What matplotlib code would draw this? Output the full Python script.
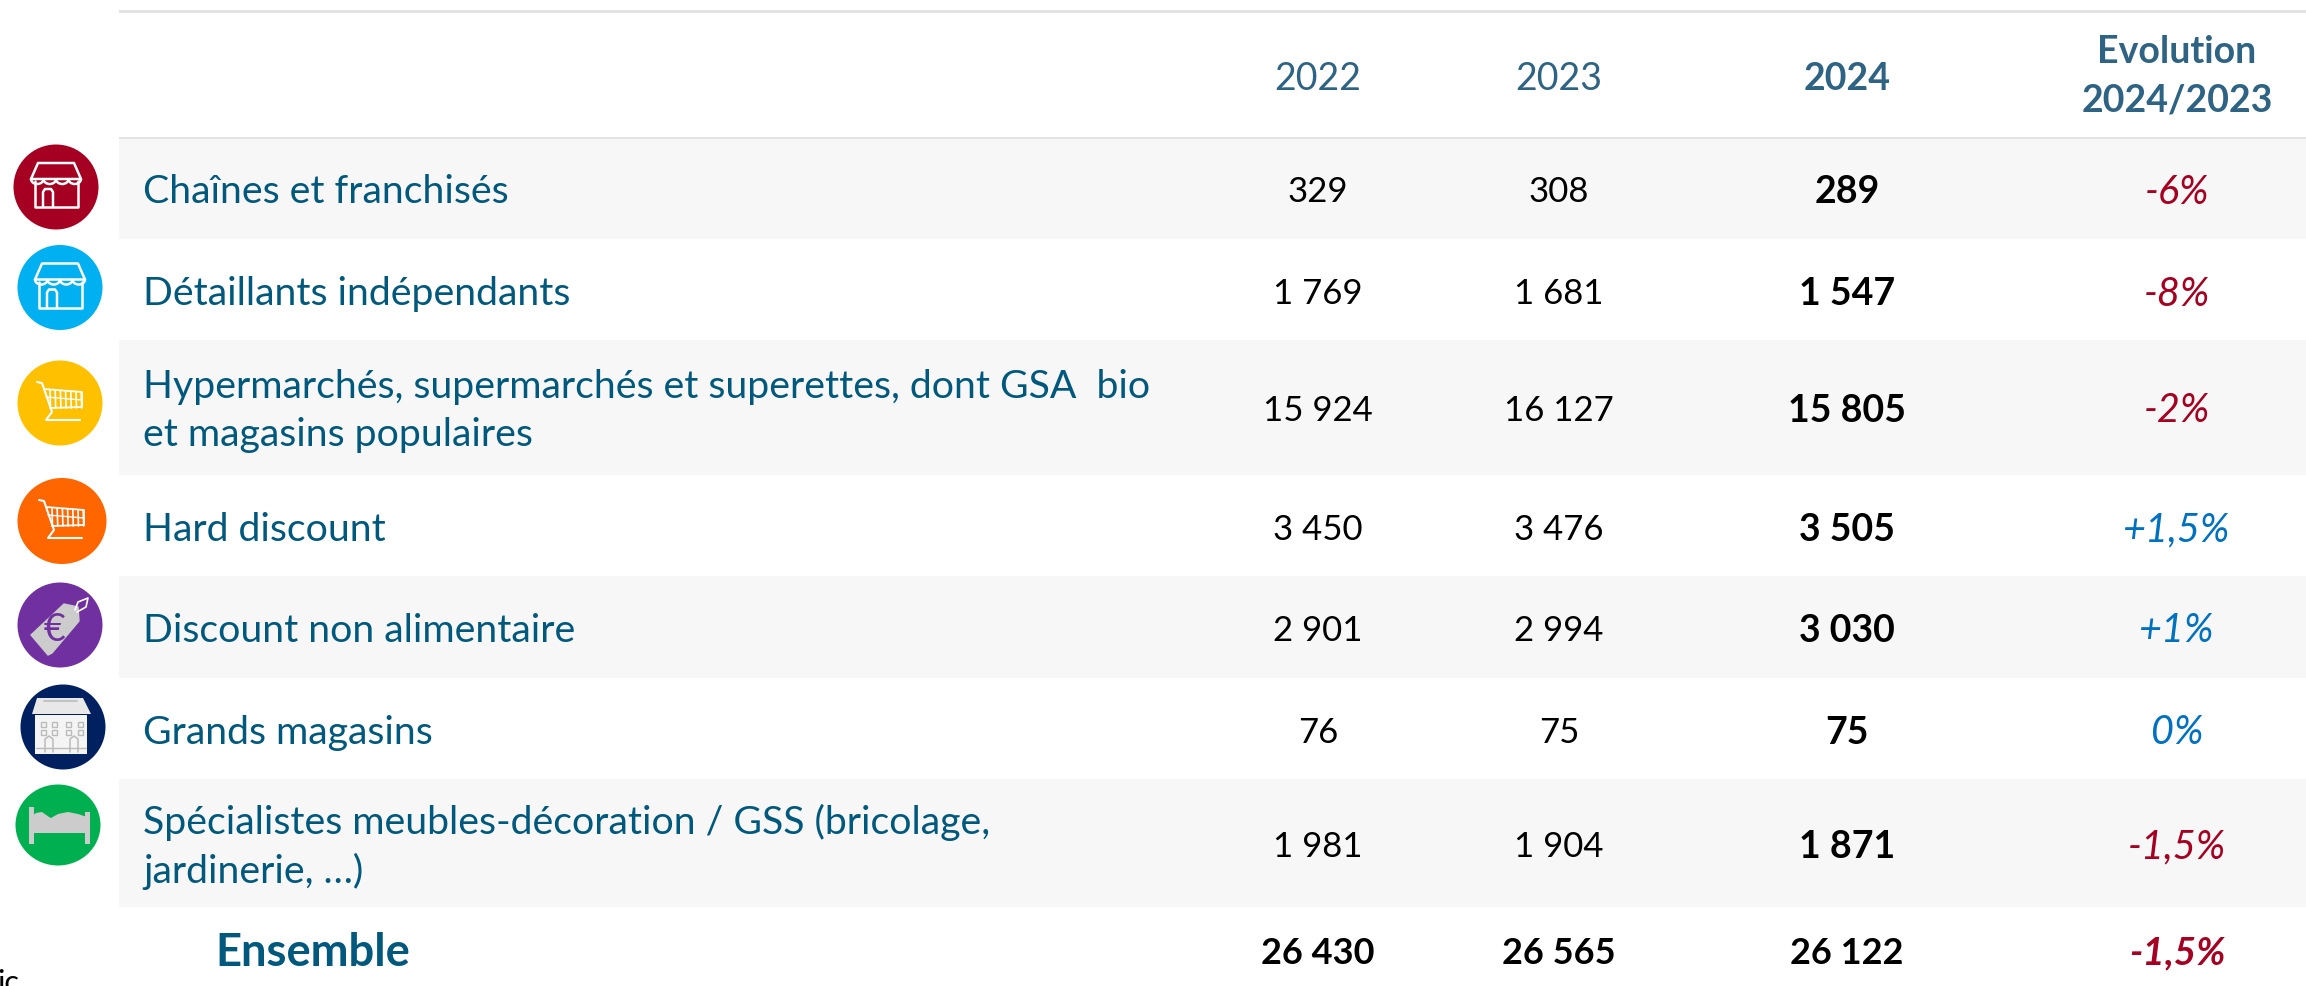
import matplotlib
matplotlib.use("Agg")
import matplotlib.pyplot as plt
from matplotlib.patches import Ellipse, Polygon, Rectangle, Arc
from matplotlib.lines import Line2D

plt.rcParams['font.family'] = ['Lato', 'DejaVu Sans']

categories = ["Chaînes et franchisés", "Détaillants indépendants",
              "Hypermarchés, supermarchés et superettes, dont GSA  bio\net magasins populaires",
              "Hard discount", "Discount non alimentaire", "Grands magasins",
              "Spécialistes meubles-décoration / GSS (bricolage,\njardinerie, …)"]
total_label = "Ensemble"
years = ["2022", "2023", "2024"]
evolution_header = "Evolution\n2024/2023"
values_2022 = [329, 1769, 15924, 3450, 2901, 76, 1981]
values_2023 = [308, 1681, 16127, 3476, 2994, 75, 1904]
values_2024 = [289, 1547, 15805, 3505, 3030, 75, 1871]
evolution = ["-6%", "-8%", "-2%", "+1,5%", "+1%", "0%", "-1,5%"]
total_values = [26430, 26565, 26122]
total_evolution = "-1,5%"

W, H = 2306, 986
NAVY = "#00587C"; HEAD = "#2E6384"; RED = "#A50021"; BLUE = "#0070C0"
BAND = "#F7F7F7"; RULE = "#E3E3E3"
row_edges = [138, 239, 340, 475, 576, 678, 779, 907]
row_ys = [188, 290, 407, 526, 627, 729, 843]
col_x = [1318, 1559, 1847, 2177]
LEFT = 119
LABEL_FS = 28.3
VALUE_FS = 25

fig = plt.figure(figsize=(W / 100, H / 100), dpi=100, facecolor="white")
ax = fig.add_axes([0, 0, 1, 1])
ax.set_xlim(0, W); ax.set_ylim(H, 0); ax.axis("off")

def fmt(v):
    return f"{v:,}".replace(",", " ")

# bands and rules
for i in (0, 2, 4, 6):
    ax.add_patch(Rectangle((LEFT, row_edges[i]), W - LEFT, row_edges[i + 1] - row_edges[i], fc=BAND, ec="none", zorder=1))
ax.add_patch(Rectangle((LEFT, 10), W - LEFT, 2.5, fc=RULE, ec="none", zorder=2))
ax.add_patch(Rectangle((LEFT, 136.5), W - LEFT, 2.5, fc=RULE, ec="none", zorder=2))

# header
for x, y, bold in zip(col_x[:3], years, (False, False, True)):
    ax.text(x, 79, y, ha="center", va="center", fontsize=27, color=HEAD, fontweight="bold" if bold else "normal")
ax.text(col_x[3], 76, evolution_header, ha="center", va="center", fontsize=27, color=HEAD, fontweight="bold", linespacing=1.5)

# rows
for i, cat in enumerate(categories):
    y = row_ys[i] + 4
    ax.text(143, y, cat, ha="left", va="center", fontsize=LABEL_FS, color=NAVY, linespacing=1.38)
    ax.text(col_x[0], y, fmt(values_2022[i]), ha="center", va="center", fontsize=VALUE_FS, color="black")
    ax.text(col_x[1], y, fmt(values_2023[i]), ha="center", va="center", fontsize=VALUE_FS, color="black")
    ax.text(col_x[2], y, fmt(values_2024[i]), ha="center", va="center", fontsize=27, color="black", fontweight="bold")
    col = RED if evolution[i].startswith("-") else BLUE
    ax.text(col_x[3], y, evolution[i], ha="center", va="center", fontsize=28.5, color=col, style="italic")

# total
ax.text(215, 953, total_label, ha="left", va="center", fontsize=32.7, color=NAVY, fontweight="bold")
for x, v in zip(col_x, total_values):
    ax.text(x, 953, fmt(v), ha="center", va="center", fontsize=26, color="black", fontweight="bold")
ax.text(col_x[3], 953, total_evolution, ha="center", va="center", fontsize=27.7, color=RED, fontweight="bold", style="italic")
ax.text(-3, 992, "ic", ha="left", va="baseline", fontsize=22, color="black", clip_on=True)

# icons
def circle(cx, cy, rx, ry, c):
    ax.add_patch(Ellipse((cx, cy), 2 * rx, 2 * ry, fc=c, ec="none", zorder=3))

def pl(cx, cy, pts, c="white", lw=1.8):
    ax.add_line(Line2D([cx + p[0] for p in pts], [cy + p[1] for p in pts], color=c, lw=lw, zorder=4,
                       solid_capstyle="round", solid_joinstyle="round"))

def store(cx, cy):
    pl(cx, cy, [(-25, -8), (-18, -24), (18, -24), (25, -8), (-25, -8)])
    pl(cx, cy, [(-21, -6), (-21, 20), (22, 20), (22, -6)])
    pl(cx, cy, [(-13, 20), (-13, 5), (-11, 2), (-5, 2), (-3, 5), (-3, 20)])
    for k in range(4):
        x0 = -25 + k * 12.5
        ax.add_patch(Arc((cx + x0 + 6.25, cy - 8), 12.5, 10, theta1=0, theta2=180, color="white", lw=1.8, zorder=4))

def cart(cx, cy):
    pl(cx, cy, [(-23, -21), (-18, -20), (-8, 9), (-14, 17), (20, 17)], lw=1.5)
    pl(cx, cy, [(-16, -14), (22, -11), (22, 4), (-10, 5)], lw=1.3)
    pl(cx, cy, [(-14, -6), (22, -3)], lw=1.0)
    for k in range(7):
        x = -10 + k * 5.2
        pl(cx, cy, [(x, -13 + k * 0.4), (x + 0.5, 5)], lw=1.2)

def tag(cx, cy):
    ax.add_patch(Polygon([(cx - 29, cy + 10), (cx + 4, cy - 21), (cx + 18, cy - 18), (cx + 19, cy - 4),
                          (cx - 8, cy + 28), (cx - 12, cy + 30)], fc="#CCCCCC", ec="#CCCCCC", lw=1, joinstyle="round", zorder=4))
    pl(cx, cy, [(15, -15), (18, -23), (28, -27), (26, -18), (17, -13)], lw=1.2)
    ax.text(cx - 6, cy + 5, "€", ha="center", va="center", fontsize=27, color="#7030A0", rotation=0, zorder=5)

def building(cx, cy):
    g = "#E8E8E8"
    ax.add_patch(Polygon([(cx - 26, cy - 29), (cx + 20, cy - 29), (cx + 28, cy - 13), (cx - 31, cy - 13)], fc=g, ec="none", zorder=4))
    pl(cx, cy, [(-19, -26), (14, -26)], c="#BBBBBB", lw=1.2)
    ax.add_patch(Rectangle((cx - 28, cy - 12), 52, 39, fc="#F4F4F4", ec="none", zorder=4))
    for wy in (-3, 5.5):
        for wx in (-20, -9, 5, 17):
            ax.add_patch(Rectangle((cx + wx - 2.5, cy + wy - 2.5), 5, 5, fc="#F4F4F4", ec="#BBBBBB", lw=1, zorder=5))
    for dx in (-14, 11):
        pl(cx, cy, [(dx - 4, 25), (dx - 4, 12), (dx, 9), (dx + 4, 12), (dx + 4, 25)], c="#BBBBBB", lw=1.1)
    pl(cx, cy, [(-27, 21), (23, 21)], c="#BBBBBB", lw=1)

def bed(cx, cy):
    g = "#CCCCCC"
    ax.add_patch(Rectangle((cx - 29, cy - 18), 4.5, 37, fc=g, ec="none", zorder=4))
    ax.add_patch(Rectangle((cx + 27, cy - 13), 4.5, 32, fc=g, ec="none", zorder=4))
    ax.add_patch(Polygon([(cx - 27, cy + 8), (cx - 27, cy - 8), (cx - 22, cy - 12), (cx - 16, cy - 13),
                          (cx - 9, cy - 8), (cx - 7, cy - 7), (cx, cy - 11), (cx + 10, cy - 13),
                          (cx + 20, cy - 11), (cx + 29, cy - 8), (cx + 29, cy + 8)], fc=g, ec="none", zorder=4))

icon_specs = [(56, 187, 42.5, 42.5, "#A50021", store), (60, 287.5, 42.5, 42.5, "#00B0F0", store),
              (60, 403, 42.5, 42.5, "#FFC000", cart), (62, 521, 44.5, 43, "#FF6600", cart),
              (60, 625, 42.5, 42.5, "#7030A0", tag), (63, 727, 42.5, 42.5, "#002060", building),
              (58, 825, 42.5, 40.5, "#00B050", bed)]
for cx, cy, rx, ry, c, fn in icon_specs:
    circle(cx, cy, rx, ry, c)
    fn(cx, cy)

fig.savefig("out.png", dpi=100, facecolor="white")
